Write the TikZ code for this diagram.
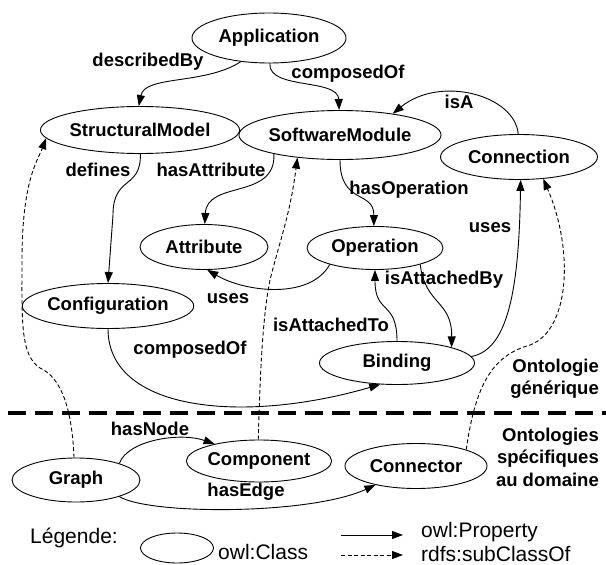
\documentclass[tikz,border=0pt]{standalone}
\usepackage{fontspec}
\setmainfont{Liberation Sans}
\usetikzlibrary{arrows.meta,shapes.geometric}
\begin{document}
\begin{tikzpicture}[x=1pt,y=-1pt,
  cls/.style={ellipse,draw,line width=0.9pt,inner sep=0pt,
    font=\fontsize{18.5}{22}\selectfont\bfseries},
  lbl/.style={inner sep=0pt,font=\fontsize{18.5}{22}\selectfont\bfseries},
  zone/.style={inner sep=0pt,align=right,anchor=east,
    font=\fontsize{18.5}{22.5}\selectfont\bfseries},
  leg/.style={inner sep=0pt,anchor=west,font=\fontsize{21}{24}\selectfont},
  prop/.style={-{Triangle[length=11pt,width=8pt]},line width=0.9pt},
  sub/.style={prop,dash pattern=on 4pt off 2.5pt},
]
\useasboundingbox (0,0) rectangle (606,565);

% classes of the generic ontology
\node[cls,minimum width=154pt,minimum height=50pt] (app)   at (269,38)  {Application};
\node[cls,minimum width=166pt,minimum height=47pt] (sm)    at (140,130) {StructuralModel};
\node[cls,minimum width=167pt,minimum height=49pt] (swm)   at (340,135) {SoftwareModule};
\node[cls,minimum width=157pt,minimum height=45pt] (conn)  at (519,157) {Connection};
\node[cls,minimum width=128pt,minimum height=45pt] (attr)  at (204,247) {Attribute};
\node[cls,minimum width=136pt,minimum height=43pt] (op)    at (375,248) {Operation};
\node[cls,minimum width=153pt,minimum height=45pt] (conf)  at (108,306) {Configuration};
\node[cls,minimum width=155pt,minimum height=43pt] (bind)  at (397,363) {Binding};

% classes of the domain ontologies
\node[cls,minimum width=128pt,minimum height=44pt] (graph) at (76,480)  {Graph};
\node[cls,minimum width=134pt,minimum height=42pt] (comp)  at (259,461) {Component};
\node[cls,minimum width=142pt,minimum height=45pt] (ctor)  at (416,466) {Connector};

% properties
\draw[prop] (app.220) .. controls (205,85) and (145,75) .. (sm.93);
\draw[prop] (app.-88) .. controls (268,90) and (338,78) .. (swm.92);
\draw[prop] (conn.92) .. controls (515,95) and (440,75) .. (swm.22);
\draw[prop] (sm.-89) .. controls (141,190) and (113,175) .. (113,215) -- (conf.90);
\draw[prop] (swm.196) .. controls (276,200) and (207,180) .. (attr.88);
\draw[prop] (swm.-90) .. controls (340,205) and (374,190) .. (op.93);
\draw[prop] (bind.5) .. controls (505,350) and (519,300) .. (conn.-86);
\draw[prop] (op.200) .. controls (310,300) and (245,292) .. (attr.-82);
\draw[prop] (bind.90) .. controls (397,300) and (375,315) .. (op.-90);
\draw[prop] (op.-20) .. controls (425,305) and (452,300) .. (bind.16);
\draw[prop] (conf.-90) .. controls (108,410) and (240,425) .. (bind.-128);
\draw[prop] (graph.21) .. controls (128,440) and (180,432) .. (comp.159);
\draw[prop] (graph.-21) .. controls (150,515) and (310,515) .. (ctor.205);

% subclass links
\draw[sub] (graph.95) .. controls (72,410) and (62,378) .. (40,368)
  .. controls (20,355) and (22,320) .. (22,260)
  .. controls (22,180) and (38,160) .. (sm.185);
\draw[sub] (comp.92) .. controls (260,380) and (262,320) .. (270,280)
  .. controls (280,240) and (290,215) .. (swm.208);
\draw[sub] (ctor.18) .. controls (476,380) and (495,355) .. (530,345)
  .. controls (570,330) and (574,250) .. (conn.-42);

% edge labels
\node[lbl] (l1)  at (148,62)  {describedBy};
\node[lbl] (l2)  at (348,74)  {composedOf};
\node[lbl] (l3)  at (459,102) {isA};
\node[lbl] (l4)  at (98,170)  {defines};
\node[lbl] (l5)  at (211,170) {hasAttribute};
\node[lbl] (l6)  at (409,190) {hasOperation};
\node[lbl] (l7)  at (490,228) {uses};
\node[lbl] (l8)  at (228,299) {uses};
\node[lbl] (l9)  at (444,280) {isAttachedBy};
\node[lbl] (l10) at (331,325) {isAttachedTo};
\node[lbl] (l11) at (190,350) {composedOf};
\node[lbl] (l12) at (150,429) {hasNode};
\node[lbl] (l13) at (246,492) {hasEdge};

% the two layers
\node[zone] (gen) at (599,379) {Ontologie\\générique};
\draw[line width=3.2pt,dash pattern=on 18pt off 9pt] (8,413) -- (606,413);
\node[zone] (spec) at (599,457) {Ontologies\\spécifiques\\au domaine};

% key
\node[leg] (key) at (30,538) {Légende:};
\node[ellipse,draw,line width=0.9pt,minimum width=73pt,minimum height=30pt] (kcls) at (177,548) {};
\node[leg] (kclst) at (218,552) {owl:Class};
\coordinate (ka) at (341,535);
\coordinate (kb) at (403,535);
\coordinate (kc) at (341,555);
\coordinate (kd) at (403,555);
\draw[prop] (ka) -- (kb);
\draw[sub] (kc) -- (kd);
\node[leg] (kprop) at (421,532) {owl:Property};
\node[leg] (ksub) at (421,554) {rdfs:subClassOf};
\end{tikzpicture}
\end{document}
